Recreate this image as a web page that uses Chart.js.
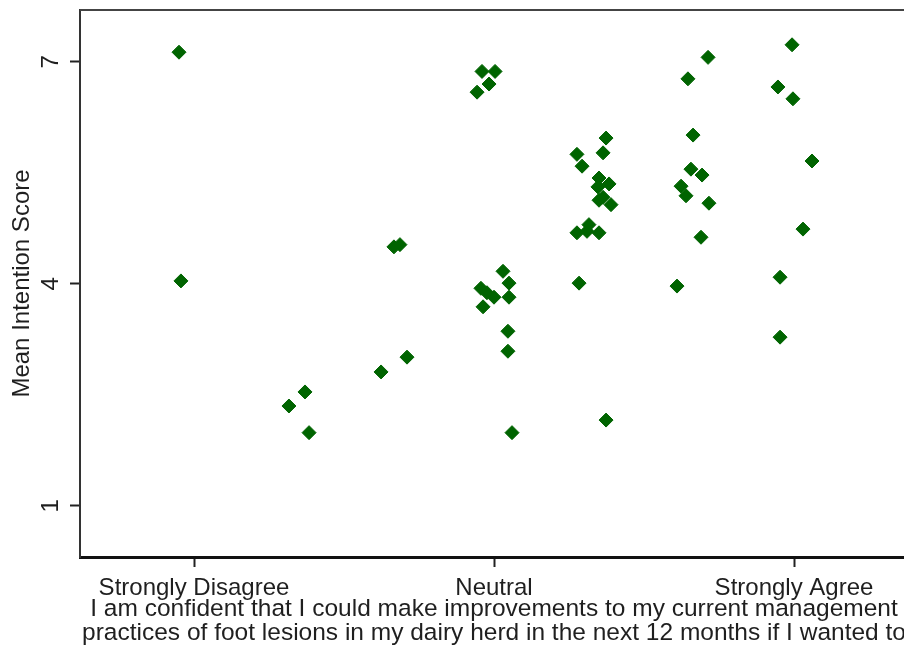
<!DOCTYPE html>
<html>
<head>
<meta charset="utf-8">
<script src="https://cdn.jsdelivr.net/npm/chart.js@4.4.1/dist/chart.umd.min.js"></script>
<style>
  html, body { margin: 0; padding: 0; background: #fff; overflow: hidden; }
  #wrap { width: 904px; height: 651px; overflow: hidden; }
  canvas { display: block; }
</style>
</head>
<body>
<div id="wrap"><canvas id="c" width="916" height="651"></canvas></div>
<script>
// Response level (1 = Strongly Disagree ... 5 = Strongly Agree), jittered for display
const responseJittered = [
  0.900, 0.913,
  1.633, 1.740, 1.767,
  2.247, 2.420, 2.333, 2.373,
  2.920, 3.007, 2.967, 2.887, 3.060, 3.100, 3.100, 2.913, 2.953, 3.000,
  2.927, 3.093, 3.093, 3.120,
  3.747, 3.727, 3.553, 3.587, 3.700, 3.767, 3.693, 3.727, 3.780, 3.700,
  3.633, 3.553, 3.620, 3.700, 3.567, 3.747,
  4.427, 4.293, 4.327, 4.313, 4.387, 4.247, 4.280, 4.433, 4.380, 4.220,
  4.987, 4.893, 4.993, 5.120, 5.060, 4.907, 4.907
];
// Mean intention score for each respondent
const meanIntention = [
  7.13, 4.04,
  2.35, 2.54, 1.99,
  2.81, 3.01, 4.50, 4.53,
  6.87, 6.87, 6.70, 6.59, 4.17, 4.01, 3.82, 3.94, 3.88, 3.82,
  3.69, 3.36, 3.09, 1.99,
  5.97, 5.77, 5.75, 5.59, 5.43, 5.35, 5.31, 5.17, 5.07, 5.13,
  4.80, 4.69, 4.71, 4.69, 4.01, 2.16,
  7.06, 6.77, 6.01, 5.55, 5.47, 5.32, 5.19, 5.09, 4.63, 3.97,
  7.23, 6.66, 6.50, 5.66, 4.74, 4.09, 3.28
];
const xTickValues = [1, 3, 5];
const xTickLabels = ['Strongly Disagree', 'Neutral', 'Strongly Agree'];
const yTickValues = [1, 4, 7];
const xTitle = [
  'I am confident that I could make improvements to my current management',
  'practices of foot lesions in my dairy herd in the next 12 months if I wanted to'
];
const yTitle = 'Mean Intention Score';

const points = responseJittered.map((x, i) => ({ x, y: meanIntention[i] }));
const FONT = 'Arial, "Liberation Sans", sans-serif';
const TEXT = '#1f1f1f';

// Top and right edges of the plot frame
const framePlugin = {
  id: 'frame',
  afterDraw(chart) {
    const { ctx, chartArea: a } = chart;
    ctx.save();
    ctx.strokeStyle = '#444';
    ctx.lineWidth = 2;
    ctx.beginPath();
    ctx.moveTo(a.left, a.top);
    ctx.lineTo(a.right, a.top);
    ctx.lineTo(a.right, a.bottom);
    ctx.stroke();
    ctx.restore();
  }
};

new Chart(document.getElementById('c'), {
  type: 'scatter',
  data: {
    datasets: [{
      data: points,
      pointStyle: 'rectRot',
      pointRadius: 7,
      pointHoverRadius: 7,
      backgroundColor: '#006400',
      borderColor: '#006400',
      borderWidth: 1
    }]
  },
  options: {
    responsive: false,
    animation: false,
    devicePixelRatio: 1,
    layout: { padding: { top: 10, right: 8, left: 0, bottom: 0 } },
    plugins: { legend: { display: false }, tooltip: { enabled: false } },
    scales: {
      x: {
        type: 'linear',
        min: 0.24,
        max: 5.76,
        afterBuildTicks: (s) => { s.ticks = xTickValues.map(v => ({ value: v })); },
        afterFit: (s) => { s.height = 94; s.paddingLeft = 0; s.paddingRight = 0; },
        grid: { display: true, drawOnChartArea: false, drawTicks: true, tickLength: 10, tickColor: '#222', tickWidth: 2 },
        border: { display: true, color: '#111', width: 3 },
        ticks: {
          autoSkip: false,
          maxRotation: 0,
          padding: 9,
          color: TEXT,
          font: { family: FONT, size: 24, lineHeight: 1 },
          callback: (v, i) => xTickLabels[i]
        },
        title: {
          display: true,
          text: xTitle,
          color: TEXT,
          font: { family: FONT, size: 24.5, lineHeight: 0.98 },
          padding: { top: 0, bottom: 6 }
        }
      },
      y: {
        type: 'linear',
        min: 0.31,
        max: 7.70,
        afterBuildTicks: (s) => { s.ticks = yTickValues.map(v => ({ value: v })); },
        afterFit: (s) => { s.width = 80; s.paddingTop = 0; s.paddingBottom = 0; },
        grid: { display: true, drawOnChartArea: false, drawTicks: true, tickLength: 10, tickColor: '#222', tickWidth: 2 },
        border: { display: true, color: '#333', width: 2 },
        ticks: {
          autoSkip: false,
          minRotation: 90,
          maxRotation: 90,
          crossAlign: 'center',
          padding: 12,
          color: TEXT,
          font: { family: FONT, size: 24, lineHeight: 1 }
        },
        title: {
          display: true,
          text: yTitle,
          color: TEXT,
          font: { family: FONT, size: 24, lineHeight: 1 },
          padding: { top: 10, bottom: 0 }
        }
      }
    }
  },
  plugins: [framePlugin]
});
</script>
</body>
</html>
